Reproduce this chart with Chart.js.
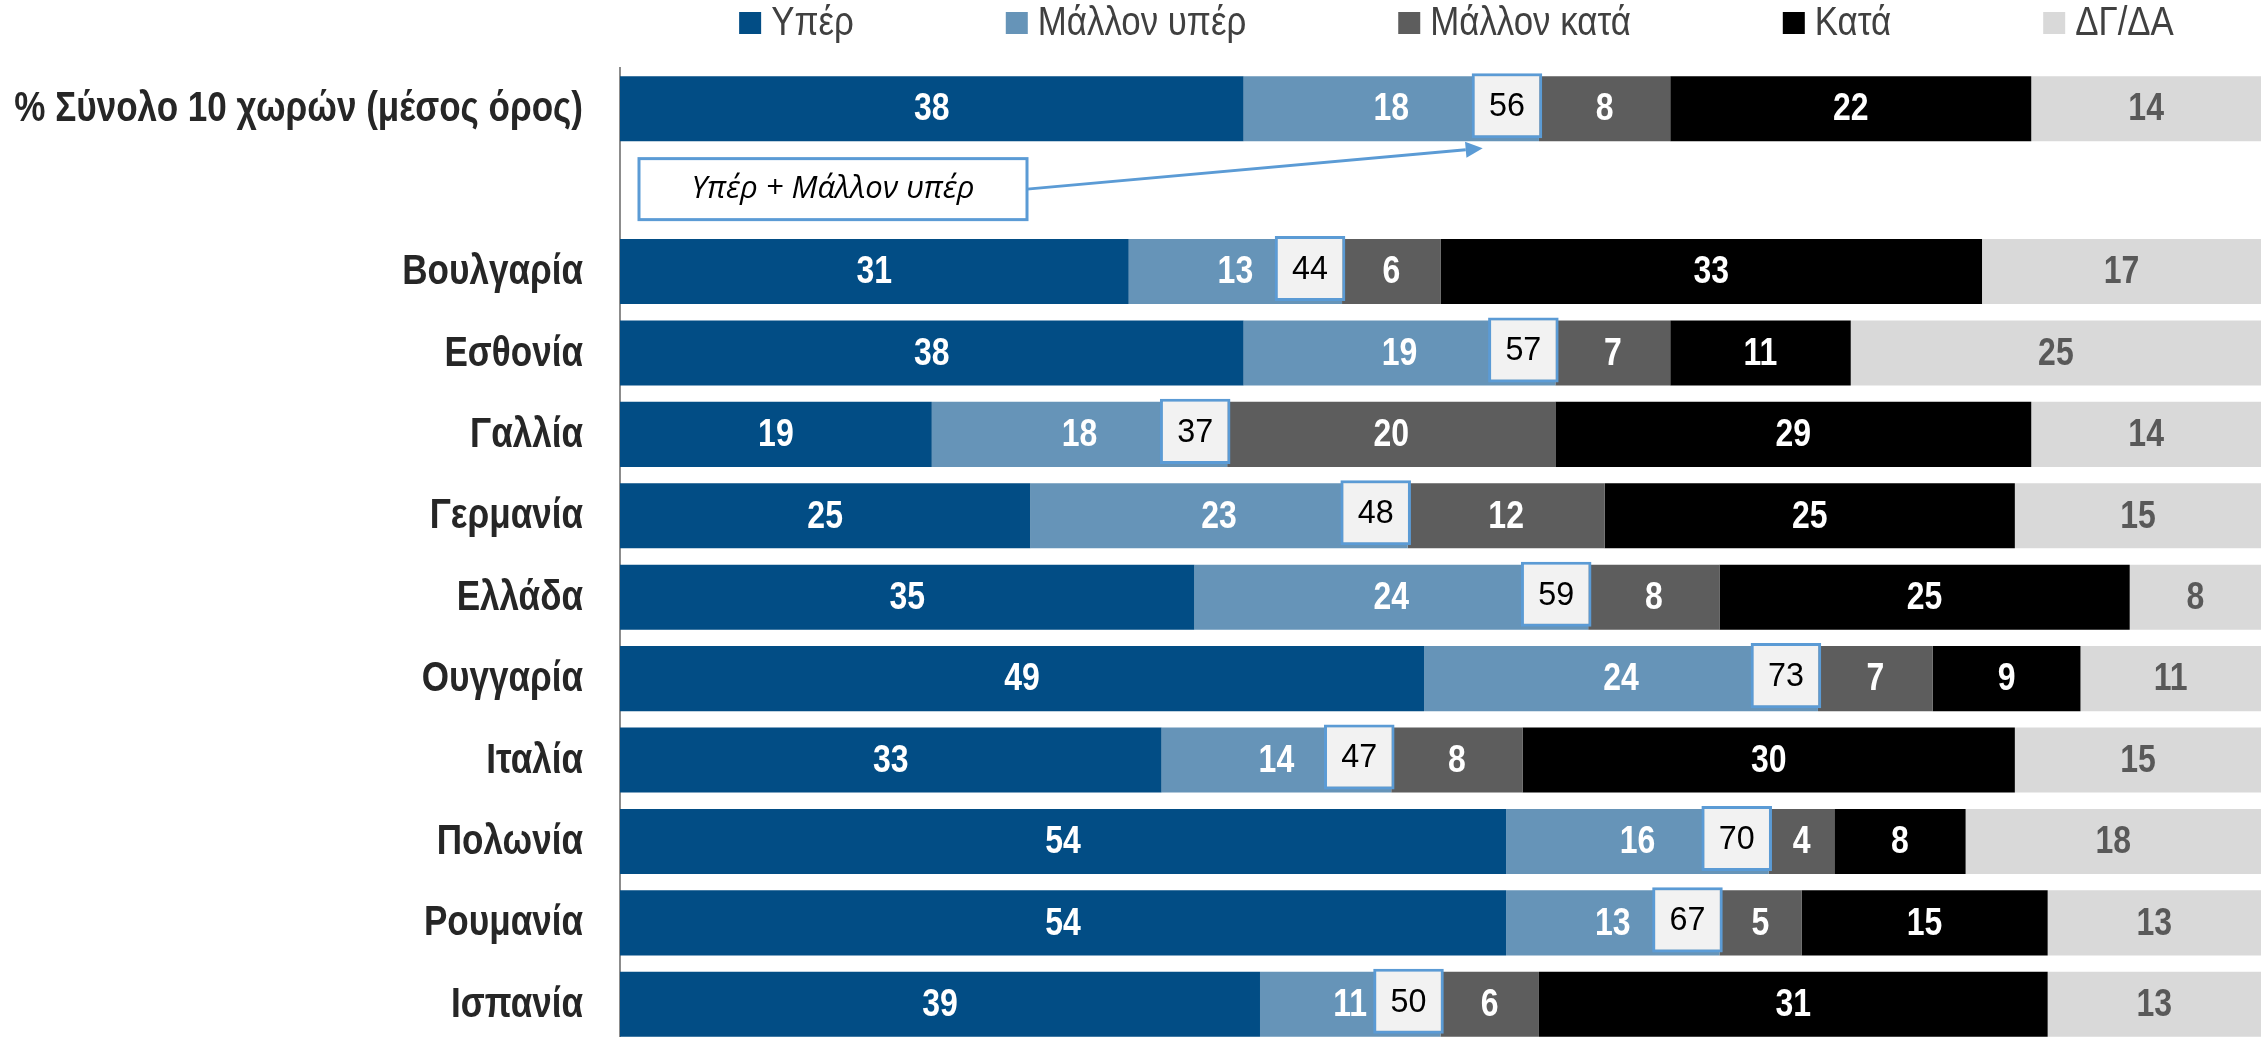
<!DOCTYPE html>
<html>
<head>
<meta charset="utf-8">
<title>Υπέρ / κατά ανά χώρα</title>
<script src="https://cdn.jsdelivr.net/npm/chart.js@4.4.1/dist/chart.umd.min.js"></script>
<style>
  html, body { margin: 0; padding: 0; background: #fff; overflow: hidden; }
  #wrap { width: 2261px; height: 1045px; position: relative; }
</style>
</head>
<body>
<div id="wrap"><canvas id="surveyChart"></canvas></div>
<script>
// categories (row 1 is an empty spacer row under the average)
var countries = ['% Σύνολο 10 χωρών (μέσος όρος)', '', 'Βουλγαρία', 'Εσθονία', 'Γαλλία', 'Γερμανία',
                 'Ελλάδα', 'Ουγγαρία', 'Ιταλία', 'Πολωνία', 'Ρουμανία', 'Ισπανία'];
var seriesNames = ['Υπέρ', 'Μάλλον υπέρ', 'Μάλλον κατά', 'Κατά', 'ΔΓ/ΔΑ'];

var yes       = [38, null, 31, 38, 19, 25, 35, 49, 33, 54, 54, 39];
var ratherYes = [18, null, 13, 19, 18, 23, 24, 24, 14, 16, 13, 11];
var ratherNo  = [8,  null, 6,  7,  20, 12, 8,  7,  8,  4,  5,  6];
var no        = [22, null, 33, 11, 29, 25, 25, 9,  30, 8,  15, 31];
var dkna      = [14, null, 17, 25, 14, 15, 8,  11, 15, 18, 13, 13];
// Υπέρ + Μάλλον υπέρ
var totalYes  = [56, null, 44, 57, 37, 48, 59, 73, 47, 70, 67, 50];

var colors = ['#024d85', '#6694b8', '#5d5d5d', '#000000', '#d9d9d9'];
var labelColors = ['#ffffff', '#ffffff', '#ffffff', '#ffffff', '#595959'];

// no narrow font installed, so text is squeezed by hand
var FONT = '"Liberation Sans", Arial, sans-serif';
var SQUEEZE = 0.82;
var BOX_BLUE = '#5b9bd5';

function narrowText(ctx, txt, x, y, align, sx) {
    ctx.save();
    ctx.translate(x, y);
    ctx.scale(sx || SQUEEZE, 1);
    ctx.textAlign = align;
    ctx.fillText(txt, 0, 0);
    ctx.restore();
}

var seriesData = [yes, ratherYes, ratherNo, no, dkna];
var datasets = seriesData.map(function (d, i) {
    return {
        label: seriesNames[i],
        data: d,
        backgroundColor: colors[i],
        borderWidth: 0,
        stack: 'main'
    };
});
// little boxes with the sum, sitting at the end of the "Μάλλον υπέρ" segment
datasets.push({
    label: 'sum',
    data: totalYes.map(function (t) { return t === null ? null : [t - 4.1, t + 0.2]; }),
    backgroundColor: '#f2f2f2',
    borderColor: BOX_BLUE,
    borderWidth: 3,
    borderSkipped: false,
    stack: 'box',
    grouped: false,
    order: -1
});

var BOX_SHIFT = 3;

var boxShift = {
    id: 'boxShift',
    beforeDatasetDraw: function (chart, args) {
        if (args.index === 5) { chart.ctx.save(); chart.ctx.translate(0, -BOX_SHIFT); }
    },
    afterDatasetDraw: function (chart, args) {
        if (args.index === 5) chart.ctx.restore();
    }
};

var segLabels = {
    id: 'segLabels',
    afterDatasetsDraw: function (chart) {
        var ctx = chart.ctx;
        ctx.save();
        ctx.textBaseline = 'middle';
        chart.data.datasets.forEach(function (ds, i) {
            var meta = chart.getDatasetMeta(i);
            meta.data.forEach(function (bar, j) {
                var v = ds.data[j];
                if (v === null) return;
                var cx = (bar.x + bar.base) / 2;
                if (i === 5) {
                    ctx.font = '34px ' + FONT;
                    ctx.fillStyle = '#000';
                    narrowText(ctx, totalYes[j], cx, bar.y - BOX_SHIFT + 1, 'center', 0.95);
                } else {
                    ctx.font = 'bold 39px ' + FONT;
                    ctx.fillStyle = labelColors[i];
                    narrowText(ctx, v, cx, bar.y + 1, 'center');
                }
            });
        });
        ctx.restore();
    }
};

var catLabels = {
    id: 'catLabels',
    afterDraw: function (chart) {
        var ctx = chart.ctx, y = chart.scales.y;
        ctx.save();
        ctx.font = 'bold 42px ' + FONT;
        ctx.fillStyle = '#262626';
        ctx.textBaseline = 'middle';
        y.ticks.forEach(function (t, i) {
            var lbl = chart.data.labels[t.value];
            if (!lbl) return;
            narrowText(ctx, lbl, y.right - 37, y.getPixelForTick(i) + 1, 'right', 0.835);
        });
        ctx.restore();
    }
};

var topLegend = {
    id: 'topLegend',
    afterDraw: function (chart) {
        var ctx = chart.ctx, area = chart.chartArea;
        var sq = 22, gapText = 10, gapItem = 152, sx = 0.85;
        ctx.save();
        ctx.font = '41px ' + FONT;
        ctx.textBaseline = 'middle';
        var widths = seriesNames.map(function (n) { return sq + gapText + ctx.measureText(n).width * sx; });
        var total = widths.reduce(function (a, b) { return a + b; }, 0) + gapItem * (widths.length - 1);
        var x = (area.left + area.right) / 2 + 16 - total / 2;
        var yMid = 23;
        seriesNames.forEach(function (n, i) {
            ctx.fillStyle = colors[i];
            ctx.fillRect(x, yMid - sq / 2, sq, sq);
            ctx.fillStyle = '#404040';
            narrowText(ctx, n, x + sq + gapText, yMid + 1, 'left', sx);
            x += widths[i] + gapItem;
        });
        ctx.restore();
    }
};

var callout = {
    id: 'callout',
    afterDraw: function (chart) {
        var ctx = chart.ctx, area = chart.chartArea;
        var rowY = chart.scales.y.getPixelForValue(1);
        var bw = 388, bh = 61;
        var bx = area.left + 19, by = rowY - bh / 2 - 1;
        ctx.save();
        ctx.strokeStyle = BOX_BLUE;
        ctx.lineWidth = 3;
        ctx.fillStyle = '#fff';
        ctx.fillRect(bx, by, bw, bh);
        ctx.strokeRect(bx, by, bw, bh);
        ctx.fillStyle = '#000';
        ctx.font = 'italic 31px "Open Sans", "Noto Sans", sans-serif';
        ctx.textAlign = 'center';
        ctx.textBaseline = 'middle';
        ctx.fillText('Υπέρ + Μάλλον υπέρ', bx + bw / 2, by + bh / 2);

        // arrow to the first sum box
        var target = chart.getDatasetMeta(5).data[0];
        var tx = target.base + 11, ty = target.y + target.height / 2 + 7;
        var sx = bx + bw, sy = by + bh / 2;
        var ang = Math.atan2(ty - sy, tx - sx);
        var headL = 17, headW = 8;
        var hx = tx - headL * Math.cos(ang), hy = ty - headL * Math.sin(ang);
        ctx.beginPath();
        ctx.moveTo(sx, sy);
        ctx.lineTo(hx, hy);
        ctx.stroke();
        ctx.fillStyle = BOX_BLUE;
        ctx.beginPath();
        ctx.moveTo(tx, ty);
        ctx.lineTo(hx + headW * Math.sin(ang), hy - headW * Math.cos(ang));
        ctx.lineTo(hx - headW * Math.sin(ang), hy + headW * Math.cos(ang));
        ctx.closePath();
        ctx.fill();
        ctx.restore();
    }
};

var ctx = document.getElementById('surveyChart').getContext('2d');
var surveyChart = new Chart(ctx, {
    type: 'bar',
    data: {
        labels: countries,
        datasets: datasets
    },
    options: {
        indexAxis: 'y',
        responsive: true,
        maintainAspectRatio: false,
        animation: false,
        datasets: {
            bar: { barPercentage: 0.8, categoryPercentage: 1 }
        },
        layout: { padding: { top: 68, left: 0, right: 0, bottom: 0 } },
        plugins: {
            legend: { display: false },
            tooltip: { enabled: false },
            title: { display: false }
        },
        scales: {
            x: {
                display: false,
                stacked: true,
                min: 0,
                max: 100
            },
            y: {
                stacked: true,
                grid: { display: false, drawTicks: false },
                border: { display: true, color: '#8c8c8c', width: 2 },
                ticks: { display: false, autoSkip: false },
                afterFit: function (scale) { scale.width = 620; }
            }
        }
    },
    plugins: [boxShift, segLabels, catLabels, topLegend, callout]
});
</script>
</body>
</html>
